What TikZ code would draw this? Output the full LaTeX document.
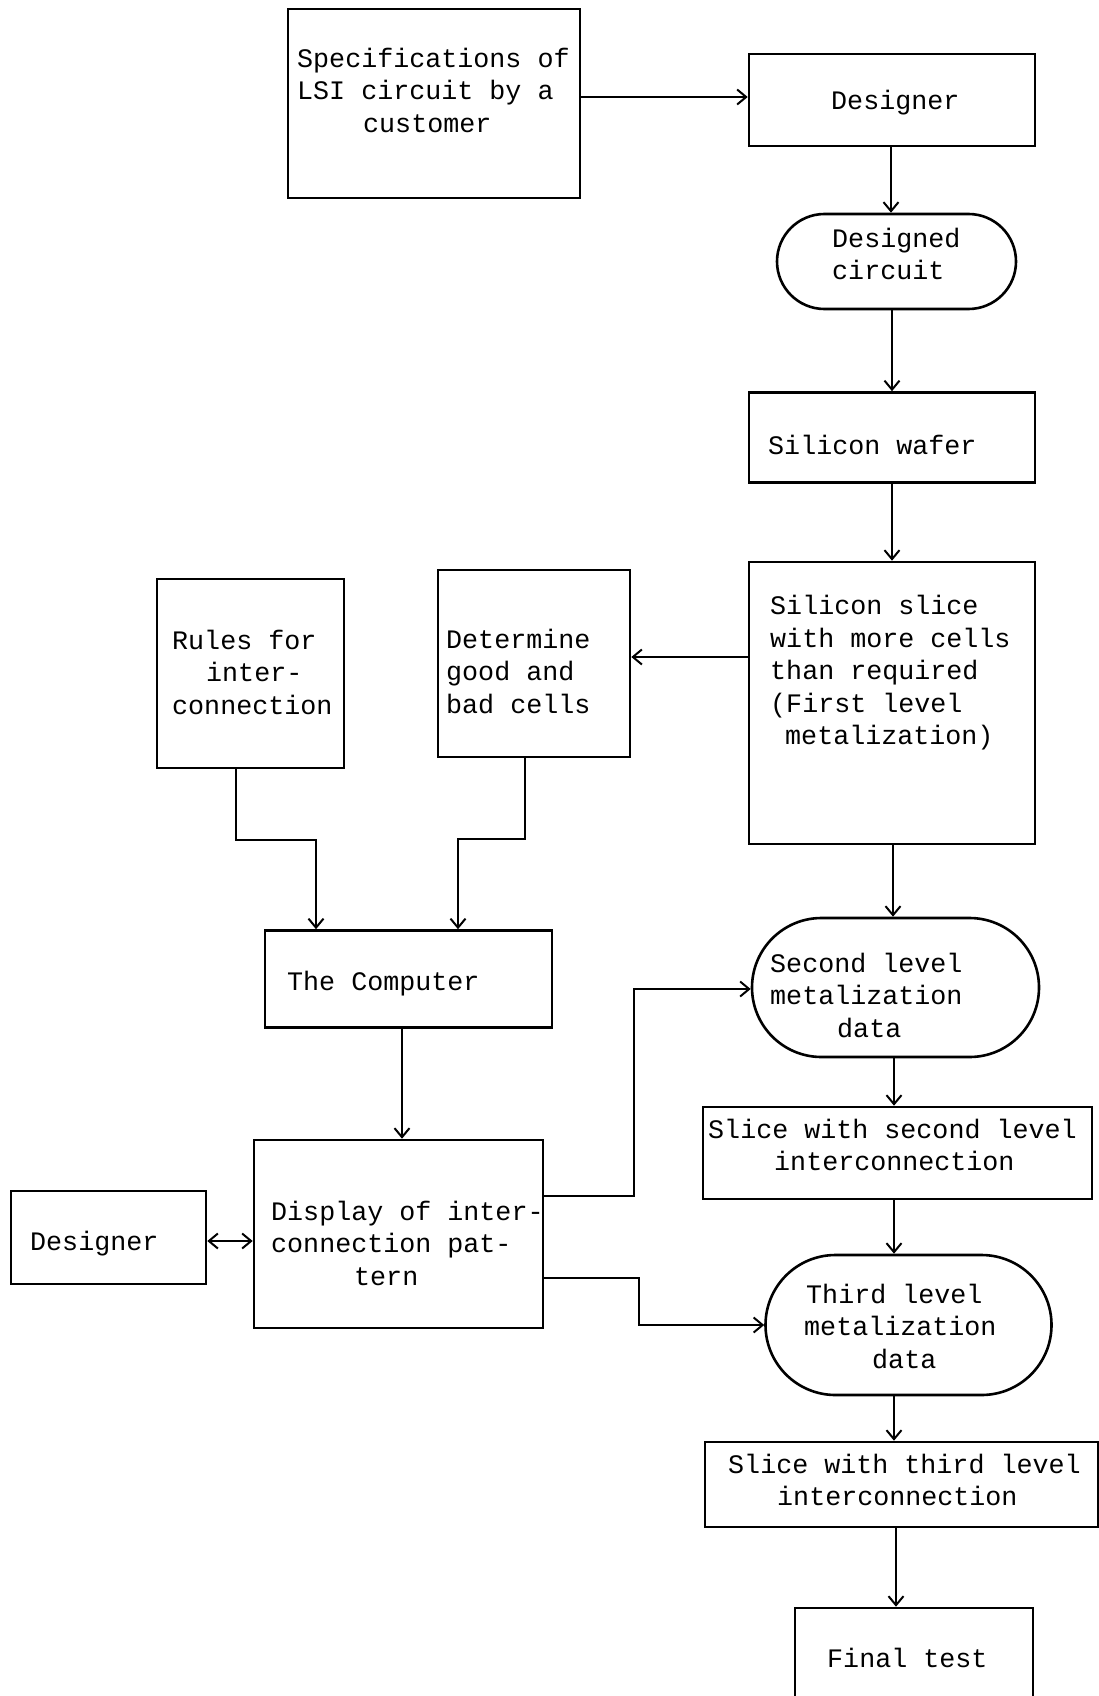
\documentclass[tikz,border=0pt]{standalone}
\usepackage{fontspec}
\setmonofont{Liberation Mono}
\usetikzlibrary{arrows.meta}
\tikzset{
  x=1pt, y=-1pt,
  box/.style={draw, line width=2.6pt, inner sep=0pt},
  term/.style={box, rounded corners=#1},
  txt/.style={font=\ttfamily\fontsize{26.7}{32.5}\selectfont, align=left, inner sep=0pt, anchor=west},
  arr/.style={line width=2.6pt, -{Straight Barb[length=9pt,width=15pt,line width=2pt]}},
  darr/.style={line width=2.6pt, {Straight Barb[length=9pt,width=15pt,line width=2pt]}-{Straight Barb[length=9pt,width=15pt,line width=2pt]}}
}
\begin{document}
\begin{tikzpicture}
\useasboundingbox (0,0) rectangle (1099,1696);
\clip (0,0) rectangle (1099,1696);
\fill[white] (0,0) rectangle (1099,1696);

% boxes
\node[box, minimum width=292pt, minimum height=189pt] (spec) at (434,103.5) {};
\node[box, minimum width=286pt, minimum height=92pt] (des1) at (892,100) {};
\node[term=47.5pt, minimum width=239pt, minimum height=95pt] (dcirc) at (896.5,261.5) {};
\node[box, minimum width=286pt, minimum height=90pt] (wafer) at (892,437.5) {};
\node[box, minimum width=286pt, minimum height=282pt] (slice) at (892,703) {};
\node[box, minimum width=187pt, minimum height=189pt] (rules) at (250.5,673.5) {};
\node[box, minimum width=192pt, minimum height=187pt] (determ) at (534,663.5) {};
\node[box, minimum width=287pt, minimum height=97pt] (comp) at (408.5,979) {};
\node[term=69.5pt, minimum width=287pt, minimum height=139pt] (second) at (895.5,987.5) {};
\node[box, minimum width=389pt, minimum height=92pt] (slicetwo) at (897.5,1153) {};
\node[box, minimum width=289pt, minimum height=188pt] (disp) at (398.5,1234) {};
\node[box, minimum width=195pt, minimum height=93pt] (destwo) at (108.5,1237.5) {};
\node[term=70pt, minimum width=286pt, minimum height=140pt] (third) at (908.5,1325) {};
\node[box, minimum width=393pt, minimum height=85pt] (slicethree) at (901.5,1484.5) {};
\node[box, minimum width=238pt, minimum height=110pt] (final) at (914,1663) {};

% texts
\node[txt] (tspec) at (297,90) {Specifications of\\LSI circuit by a\\\hspace*{66pt}customer};
\node[txt] (tdes1) at (831,103) {Designer};
\node[txt] (tdcirc) at (832,254) {Designed\\circuit};
\node[txt] (twafer) at (768,445) {Silicon wafer};
\node[txt] (tslice) at (770,673) {Silicon slice\\with more cells\\than required\\(First level\\\hspace*{15pt}metalization)};
\node[txt] (trules) at (172,672) {Rules for\\\hspace*{34pt}inter-\\connection};
\node[txt] (tdeterm) at (446,671) {Determine\\good and\\bad cells};
\node[txt] (tcomp) at (287,984) {The Computer};
\node[txt] (tsecond) at (770,995) {Second level\\metalization\\\hspace*{67pt}data};
\node[txt] (tslicetwo) at (708,1145) {Slice with second level\\\hspace*{66pt}interconnection};
\node[txt] (tdisp) at (271,1243) {Display of inter-\\connection pat-\\\hspace*{83pt}tern};
\node[txt] (tdestwo) at (30,1244) {Designer};
\node[txt] (tthird) at (804,1326) {\hspace*{2pt}Third level\\metalization\\\hspace*{68pt}data};
\node[txt] (tslicethree) at (728,1480) {Slice with third level\\\hspace*{49pt}interconnection};
\node[txt] (tfinal) at (827,1658) {Final test};

% connectors
\draw[arr] (spec.east |- 0,97) -- (des1.west |- 0,97);
\draw[arr] (des1.south -| 891,0) -- (dcirc.north -| 891,0);
\draw[arr] (dcirc.south -| 892,0) -- (wafer.north -| 892,0);
\draw[arr] (wafer.south -| 892,0) -- (slice.north -| 892,0);
\draw[arr] (slice.west |- 0,657) -- (determ.east |- 0,657);
\draw[arr] (rules.south -| 236,0) -- (236,840) -- (316,840) -- (comp.north -| 316,0);
\draw[arr] (determ.south -| 525,0) -- (525,839) -- (458,839) -- (comp.north -| 458,0);
\draw[arr] (slice.south -| 893,0) -- (second.north -| 893,0);
\draw[arr] (comp.south -| 402,0) -- (disp.north -| 402,0);
\draw[arr] (disp.east |- 0,1196) -- (634,1196) -- (634,989) -- (second.west |- 0,989);
\draw[arr] (disp.east |- 0,1278) -- (639,1278) -- (639,1325) -- (third.west |- 0,1325);
\draw[darr] (destwo.east |- 0,1241) -- (disp.west |- 0,1241);
\draw[arr] (second.south -| 894,0) -- (slicetwo.north -| 894,0);
\draw[arr] (slicetwo.south -| 894,0) -- (third.north -| 894,0);
\draw[arr] (third.south -| 894,0) -- (slicethree.north -| 894,0);
\draw[arr] (slicethree.south -| 896,0) -- (final.north -| 896,0);
\end{tikzpicture}
\end{document}
